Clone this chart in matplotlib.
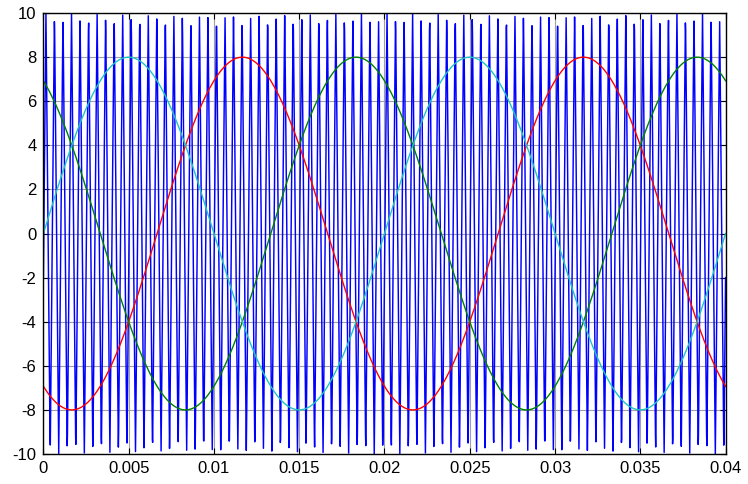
#!/usr/bin/env python3
"""Sine-triangle PWM: three phase references against a triangular carrier."""

import numpy as np
import matplotlib
matplotlib.use("Agg")
import matplotlib.pyplot as plt
from matplotlib.ticker import FuncFormatter

# values
t_end = 0.04
sample_step = 0.02 / 1333     # coarse sampling of the simulation output
ref_amp = 8.0
ref_freq = 50.0
ref_phases_deg = [-120.0, 120.0, 0.0]     # red, green, cyan
ref_colors = ['#ff0000', '#008000', '#1fc4c4']
carrier_amp = 10.0
carrier_freq = 2000.0
carrier_peak_time = 0.00015   # first carrier maximum
x_ticks = [0, 0.005, 0.01, 0.015, 0.02, 0.025, 0.03, 0.035, 0.04]
y_ticks = [-10, -8, -6, -4, -2, 0, 2, 4, 6, 8, 10]


def triangle(t, amp, freq, t_peak):
    ph = ((t - t_peak) * freq) % 1.0
    return amp * (4 * np.abs(ph - 0.5) - 1)


t = np.arange(0, t_end + sample_step, sample_step)
carrier = triangle(t, carrier_amp, carrier_freq, carrier_peak_time)

plt.rcParams['font.family'] = ['Liberation Sans', 'DejaVu Sans']
plt.rcParams['axes.unicode_minus'] = False
fig = plt.figure(figsize=(7.48, 4.84), dpi=100)
ax = fig.add_axes([0.058, 0.062, 0.912, 0.911])

ax.plot(t, carrier, color='#0000ff', lw=1.05)
for ph, col in zip(ref_phases_deg, ref_colors):
    ax.plot(t, ref_amp * np.sin(2 * np.pi * ref_freq * t + np.deg2rad(ph)),
            color=col, lw=1.0)

ax.set_xlim(0, t_end)
ax.set_ylim(-10, 10)
ax.set_xticks(x_ticks)
ax.set_yticks(y_ticks)
ax.xaxis.set_major_formatter(FuncFormatter(lambda v, p: '%g' % v))
ax.grid(True, color='#a0a0a0', lw=0.8)
ax.set_axisbelow(True)
ax.tick_params(direction='in', top=True, right=True, labelsize=12, length=4,
               width=0.8, pad=5)
for s in ax.spines.values():
    s.set_linewidth(1.0)

fig.savefig('out.png', dpi=100)
